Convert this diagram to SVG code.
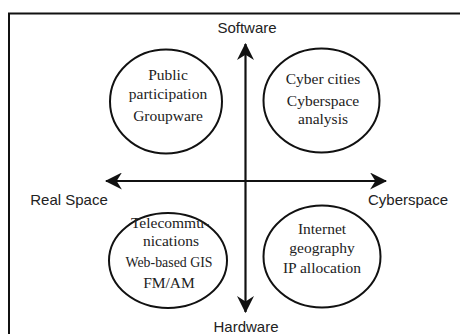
<svg xmlns="http://www.w3.org/2000/svg" width="460" height="334" viewBox="0 0 460 334">
<style>
.frame{fill:none;stroke:#111;stroke-width:2}
.node ellipse{fill:none;stroke:#111;stroke-width:2}
.node text{font-family:"Liberation Serif","Times New Roman",serif;font-size:15.5px;fill:#222;text-anchor:middle}
.axis{stroke:#111;stroke-width:2.2;fill:none;marker-start:url(#arr);marker-end:url(#arr)}
.lbl{font-family:"Liberation Sans",Arial,sans-serif;font-size:15px;fill:#222;text-anchor:middle}
</style>
<defs>
<marker id="arr" viewBox="0 0 16 16" refX="15" refY="8" markerWidth="17" markerHeight="17" markerUnits="userSpaceOnUse" orient="auto-start-reverse">
<path d="M0,0 L16,8 L0,16 L5,8 Z" fill="#111"/>
</marker>
</defs>
<rect width="460" height="334" fill="#fff"/>
<path class="frame" d="M9,334 L9,13.5 L460,13.5"/>
<g id="connectors">
<line class="axis" x1="245.5" y1="44" x2="245.5" y2="312"/>
<line class="axis" x1="106" y1="181" x2="386" y2="181"/>
</g>
<g id="labels">
<text class="lbl" x="247" y="33">Software</text>
<text class="lbl" x="69" y="205">Real Space</text>
<text class="lbl" x="408" y="205">Cyberspace</text>
<text class="lbl" x="246" y="332">Hardware</text>
</g>
<g id="n-tl" class="node">
<ellipse cx="166" cy="101.5" rx="56" ry="52"/>
<text x="168" y="80">Public</text>
<text x="168" y="99">participation</text>
<text x="168" y="121">Groupware</text>
</g>
<g id="n-tr" class="node">
<ellipse cx="321.5" cy="100.5" rx="58" ry="52"/>
<text x="323" y="84">Cyber cities</text>
<text x="323" y="106">Cyberspace</text>
<text x="323" y="124">analysis</text>
</g>
<g id="n-bl" class="node">
<ellipse cx="168" cy="260.5" rx="59" ry="47.5"/>
<text x="170" y="228">Telecommu-</text>
<text x="171" y="246">nications</text>
<text x="169" y="267" textLength="87" lengthAdjust="spacingAndGlyphs">Web-based GIS</text>
<text x="169" y="288">FM/AM</text>
</g>
<g id="n-br" class="node">
<ellipse cx="322" cy="256.5" rx="58.5" ry="51"/>
<text x="322" y="234">Internet</text>
<text x="322" y="253">geography</text>
<text x="322" y="273">IP allocation</text>
</g>
</svg>
